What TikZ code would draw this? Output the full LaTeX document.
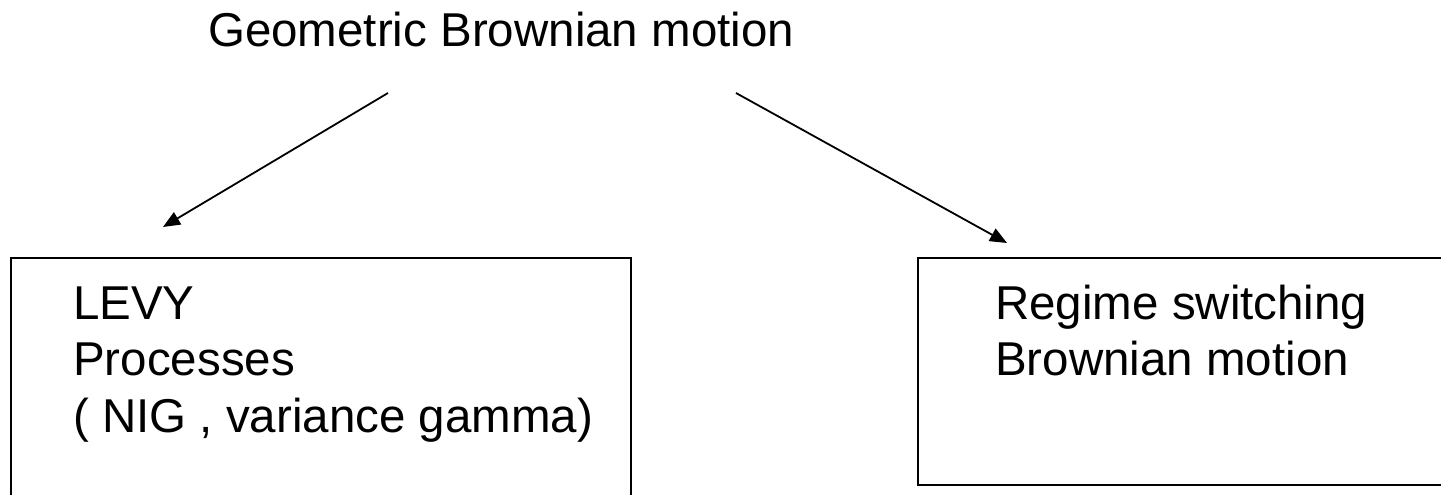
\documentclass[tikz,border=0pt]{standalone}
\usepackage{fontspec}
\setmainfont{Liberation Sans}
\usetikzlibrary{arrows.meta}
\begin{document}
\begin{tikzpicture}[x=1pt,y=-1pt,
  lbl/.style={font=\fontsize{47.5}{56.5}\selectfont, inner sep=0pt, anchor=base west},
  frame/.style={draw, line width=2pt, anchor=north west, inner sep=0pt},
  conn/.style={line width=1.8pt, -{Triangle[length=17pt,width=14pt]}}]
\useasboundingbox (0,0) rectangle (1441,495);
\clip (0,0) rectangle (1441,495);
\node[lbl] (title) at (208,47) {Geometric Brownian motion};
\node[frame, minimum width=620pt, minimum height=300pt] (levybox) at (10,257) {};
\node[frame, minimum width=600pt, minimum height=227pt] (regbox) at (917,257) {};
\node[lbl] (levy1) at (73,319) {LEVY};
\node[lbl] (levy2) at (73,375) {Processes};
\node[lbl] (levy3) at (73,432) {( NIG , variance gamma)};
\node[lbl] (reg1) at (995,319) {Regime switching};
\node[lbl] (reg2) at (995,375) {Brownian motion};
\coordinate (a1s) at (388,93);
\coordinate (a1e) at (163,227);
\coordinate (a2s) at (736,93);
\coordinate (a2e) at (1007,243);
\draw[conn] (a1s) -- (a1e);
\draw[conn] (a2s) -- (a2e);
\end{tikzpicture}
\end{document}
